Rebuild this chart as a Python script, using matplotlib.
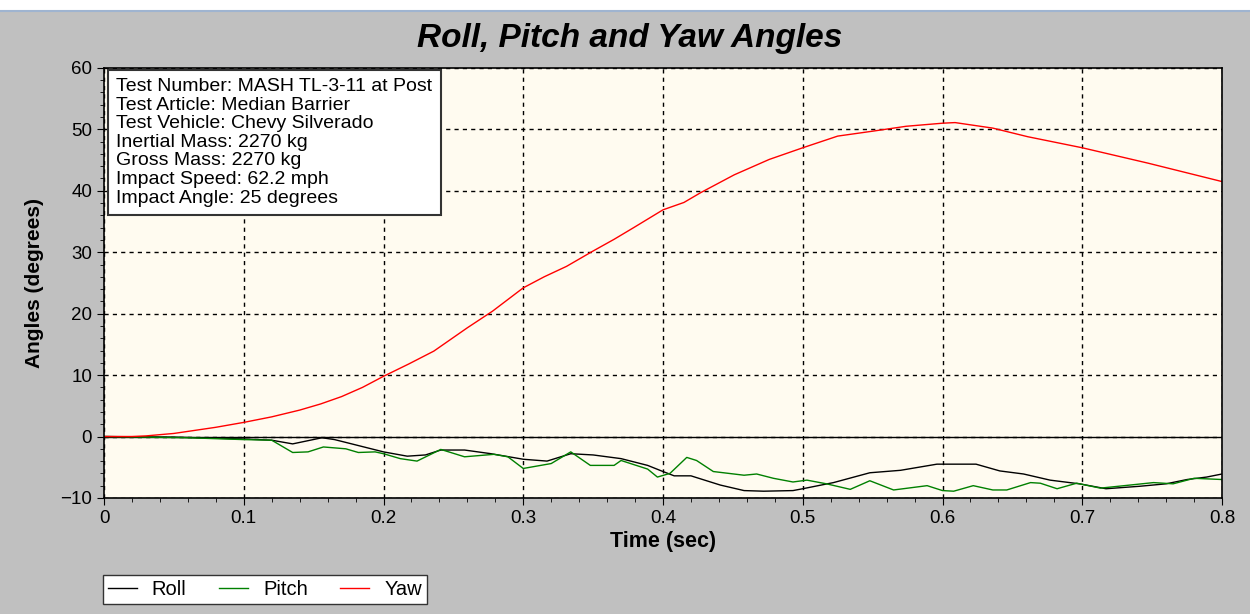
import numpy as np
import matplotlib
matplotlib.use("Agg")
import matplotlib.pyplot as plt
from matplotlib.ticker import MultipleLocator

plt.rcParams['font.family'] = ['Liberation Sans', 'DejaVu Sans']

# values
yaw_t = [0, 0.02, 0.03, 0.05, 0.065, 0.08, 0.1, 0.12, 0.14, 0.155, 0.17, 0.185, 0.2,
         0.218, 0.236, 0.26, 0.278, 0.3, 0.315, 0.331, 0.35, 0.365, 0.379, 0.4, 0.415,
         0.427, 0.451, 0.476, 0.5, 0.525, 0.55, 0.574, 0.6, 0.609, 0.636, 0.661, 0.7,
         0.747, 0.8]
yaw = [0, 0, 0.1, 0.5, 1.0, 1.5, 2.3, 3.2, 4.3, 5.3, 6.5, 8.0, 9.8,
       11.8, 13.9, 17.7, 20.4, 24.2, 26.0, 27.7, 30.2, 32.1, 34.0, 36.9, 38.1,
       39.7, 42.6, 45.1, 47.0, 48.9, 49.7, 50.5, 51.0, 51.1, 50.2, 48.8, 47.0,
       44.5, 41.5]

roll_t = [0, 0.05, 0.1, 0.12, 0.135, 0.156, 0.165, 0.2, 0.217, 0.23, 0.241, 0.258,
          0.277, 0.3, 0.317, 0.334, 0.35, 0.37, 0.389, 0.4, 0.408, 0.42, 0.441,
          0.458, 0.472, 0.493, 0.5, 0.522, 0.548, 0.57, 0.596, 0.61, 0.624, 0.641,
          0.658, 0.677, 0.698, 0.717, 0.741, 0.76, 0.775, 0.789, 0.8]
roll = [0, -0.1, -0.4, -0.6, -1.2, -0.2, -0.5, -2.5, -3.2, -3.0, -2.2, -2.2,
        -2.8, -3.7, -4.0, -2.8, -3.0, -3.6, -4.7, -5.7, -6.4, -6.4, -7.9,
        -8.8, -8.9, -8.8, -8.5, -7.5, -5.9, -5.5, -4.5, -4.5, -4.5, -5.6,
        -6.1, -7.1, -7.7, -8.5, -8.1, -7.7, -7.0, -6.6, -6.1]

pitch_t = [0, 0.03, 0.06, 0.1, 0.12, 0.135, 0.146, 0.157, 0.173, 0.182, 0.194, 0.2,
           0.212, 0.224, 0.241, 0.258, 0.279, 0.289, 0.3, 0.32, 0.334, 0.348, 0.365,
           0.37, 0.389, 0.396, 0.405, 0.417, 0.424, 0.436, 0.458, 0.467, 0.479, 0.493,
           0.503, 0.517, 0.534, 0.548, 0.565, 0.589, 0.6, 0.608, 0.622, 0.636, 0.646,
           0.663, 0.67, 0.682, 0.696, 0.713, 0.73, 0.751, 0.765, 0.78, 0.8]
pitch = [0, -0.1, -0.2, -0.5, -0.6, -2.6, -2.5, -1.7, -2.0, -2.6, -2.5, -2.8,
         -3.6, -4.0, -2.1, -3.3, -2.9, -3.3, -5.2, -4.4, -2.5, -4.7, -4.7,
         -3.9, -5.3, -6.6, -6.0, -3.4, -3.9, -5.7, -6.3, -6.1, -6.8, -7.4,
         -7.1, -7.7, -8.6, -7.2, -8.7, -8.0, -8.8, -8.9, -8.0, -8.7, -8.7,
         -7.5, -7.6, -8.5, -7.6, -8.4, -8.0, -7.5, -7.7, -6.8, -7.0]

info_lines = ["Test Number: MASH TL-3-11 at Post",
              "Test Article: Median Barrier",
              "Test Vehicle: Chevy Silverado",
              "Inertial Mass: 2270 kg",
              "Gross Mass: 2270 kg",
              "Impact Speed: 62.2 mph",
              "Impact Angle: 25 degrees"]

fig = plt.figure(figsize=(12.5, 6.14), dpi=100, facecolor='#c0c0c0')
ax = fig.add_axes([0.0832, 0.189, 0.8944, 0.7004])
ax.set_facecolor('#fffbf0')

# white strip at top of the window
fig.patches.append(plt.Rectangle((0, 0.984), 1, 0.016, transform=fig.transFigure,
                                 facecolor='white', edgecolor='none'))
fig.lines.append(plt.Line2D([0, 1], [0.982, 0.982], transform=fig.transFigure,
                            color='#9fb4d0', lw=1.5))

ax.plot(roll_t, roll, color='black', lw=1, label='Roll')
ax.plot(pitch_t, pitch, color='#008000', lw=1, label='Pitch')
ax.plot(yaw_t, yaw, color='red', lw=1, label='Yaw')
ax.axhline(0, color='black', lw=1, zorder=1)

ax.set_xlim(0, 0.8)
ax.set_ylim(-10, 60)
ax.xaxis.set_major_locator(MultipleLocator(0.1))
ax.xaxis.set_minor_locator(MultipleLocator(0.02))
ax.yaxis.set_major_locator(MultipleLocator(10))
ax.yaxis.set_minor_locator(MultipleLocator(2))
ax.set_xticks(np.arange(0, 0.81, 0.1))
ax.set_xticklabels(['0', '0.1', '0.2', '0.3', '0.4', '0.5', '0.6', '0.7', '0.8'])
ax.tick_params(which='major', length=5, labelsize=13.5, colors='black')
ax.tick_params(which='minor', length=3)
ax.grid(True, which='major', color='black', linestyle=(0, (3, 3)), lw=1)
for s in ax.spines.values():
    s.set_linewidth(1.2)

ax.set_xlabel('Time (sec)', fontsize=15.5, fontweight='bold', labelpad=3)
ax.set_ylabel('Angles (degrees)', fontsize=15, fontweight='bold', labelpad=12)
fig.text(0.504, 0.937, 'Roll, Pitch and Yaw Angles', ha='center', va='center',
         fontsize=24, fontweight='bold', fontstyle='italic')

ax.text(0.011, 0.976, "\n".join(info_lines), transform=ax.transAxes, va='top', ha='left',
        fontsize=14, linespacing=1.12,
        bbox=dict(boxstyle='square,pad=0.42', facecolor='white', edgecolor='#333333', lw=1.5))

fig.legend(loc='lower left', bbox_to_anchor=(0.082, 0.016), ncol=3, fontsize=14.5,
           frameon=True, fancybox=False, edgecolor='#333333', framealpha=1,
           handlelength=1.45, columnspacing=1.6, handletextpad=0.75,
           borderpad=0.25, borderaxespad=0)

fig.savefig('out.png', dpi=100, facecolor=fig.get_facecolor())
